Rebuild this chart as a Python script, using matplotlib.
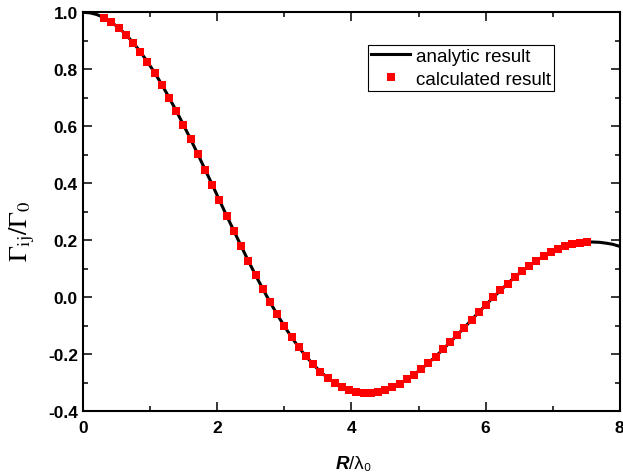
import matplotlib
matplotlib.use('Agg')
import matplotlib.pyplot as plt
from matplotlib.ticker import MultipleLocator, FixedLocator

plt.rcParams['font.family'] = ['Liberation Sans', 'DejaVu Sans']
plt.rcParams['mathtext.fontset'] = 'stix'

# calculated points (red squares)
calc_x = [0.31, 0.4175, 0.525, 0.6325, 0.74, 0.8475, 0.955, 1.0625, 1.17,
          1.2775, 1.385, 1.4925, 1.60, 1.7075, 1.815, 1.9225, 2.03, 2.1375,
          2.245, 2.3525, 2.46, 2.5675, 2.675, 2.7825, 2.89, 2.9975, 3.105,
          3.2125, 3.32, 3.4275, 3.535, 3.6425, 3.75, 3.8575, 3.965, 4.0725,
          4.18, 4.2875, 4.395, 4.5025, 4.61, 4.7175, 4.825, 4.9325, 5.04,
          5.1475, 5.255, 5.3625, 5.47, 5.5775, 5.685, 5.7925, 5.90, 6.0075,
          6.115, 6.2225, 6.33, 6.4375, 6.545, 6.6525, 6.76, 6.8675, 6.975,
          7.0825, 7.19, 7.2975, 7.405, 7.5125]
calc_y = [0.981, 0.965, 0.946, 0.922, 0.894, 0.862, 0.826, 0.788, 0.746,
          0.701, 0.654, 0.605, 0.554, 0.502, 0.448, 0.395, 0.340, 0.286,
          0.233, 0.180, 0.128, 0.078, 0.030, -0.016, -0.060, -0.101, -0.140,
          -0.175, -0.207, -0.235, -0.261, -0.282, -0.300, -0.314, -0.325,
          -0.332, -0.335, -0.335, -0.332, -0.325, -0.316, -0.303, -0.288,
          -0.271, -0.252, -0.230, -0.208, -0.183, -0.158, -0.132, -0.106,
          -0.079, -0.052, -0.026, -0.000, 0.024, 0.048, 0.071, 0.092, 0.111,
          0.129, 0.144, 0.158, 0.170, 0.179, 0.186, 0.191, 0.194]

# analytic curve (black line)
line_x = [0.0, 0.1, 0.2] + calc_x + [7.6, 7.7, 7.8, 7.9, 8.0]
line_y = [1.000, 0.998, 0.992] + calc_y + [0.194, 0.193, 0.190, 0.186, 0.179]

x_ticks = [0, 2, 4, 6, 8]
y_ticks = [-0.4, -0.2, 0.0, 0.2, 0.4, 0.6, 0.8, 1.0]
y_ticklabels = ['-0.4', '-0.2', '0.0', '0.2', '0.4', '0.6', '0.8', '1.0']

fig = plt.figure(figsize=(6.23, 4.77), dpi=100)
ax = fig.add_axes([0.134, 0.1356, 0.8604, 0.8365])

ax.plot(line_x, line_y, color='black', lw=2.2, label='analytic result', zorder=2)
ax.plot(calc_x, calc_y, ls='none', marker='s', ms=5.8, color='#ff0000',
        mec='#ff0000', mew=0, label='calculated result', zorder=3)

ax.set_xlim(0, 8)
ax.set_ylim(-0.4, 1.0)
ax.xaxis.set_major_locator(FixedLocator(x_ticks))
ax.xaxis.set_minor_locator(MultipleLocator(1))
ax.yaxis.set_major_locator(FixedLocator(y_ticks))
ax.yaxis.set_minor_locator(MultipleLocator(0.1))
ax.set_xticklabels([str(t) for t in x_ticks])
ax.set_yticklabels(y_ticklabels)
for lab in ax.get_xticklabels() + ax.get_yticklabels():
    lab.set_fontweight('bold')
    lab.set_fontsize(12.5)

ax.tick_params(which='both', direction='in', top=True, right=True, width=1.1)
ax.tick_params(which='major', length=6.2)
ax.tick_params(which='minor', length=3.8)
ax.tick_params(axis='x', pad=6)
ax.tick_params(axis='y', pad=4)
for sp in ax.spines.values():
    sp.set_linewidth(1.5)

ax.set_ylabel(r'$\Gamma_{\mathrm{ij}}/\Gamma_0$', fontsize=19)
ax.yaxis.set_label_coords(-0.087, 0.454)

# x label: bold italic R, then /λ0
ax.text(0.4955, -0.13, 'R', transform=ax.transAxes, ha='right', va='center',
        fontsize=13.5, fontweight='bold', style='italic')
ax.text(0.4955, -0.13, '/λ₀', transform=ax.transAxes, ha='left', va='center',
        fontsize=13.5)

leg = ax.legend(loc='upper left', bbox_to_anchor=(0.531, 0.918),
                borderaxespad=0, fancybox=False, framealpha=1,
                edgecolor='black', fontsize=13.5, handlelength=2.1,
                handletextpad=0.3, borderpad=0.15, labelspacing=0.3)
leg.get_frame().set_linewidth(0.8)

fig.savefig('out.png', dpi=100)
